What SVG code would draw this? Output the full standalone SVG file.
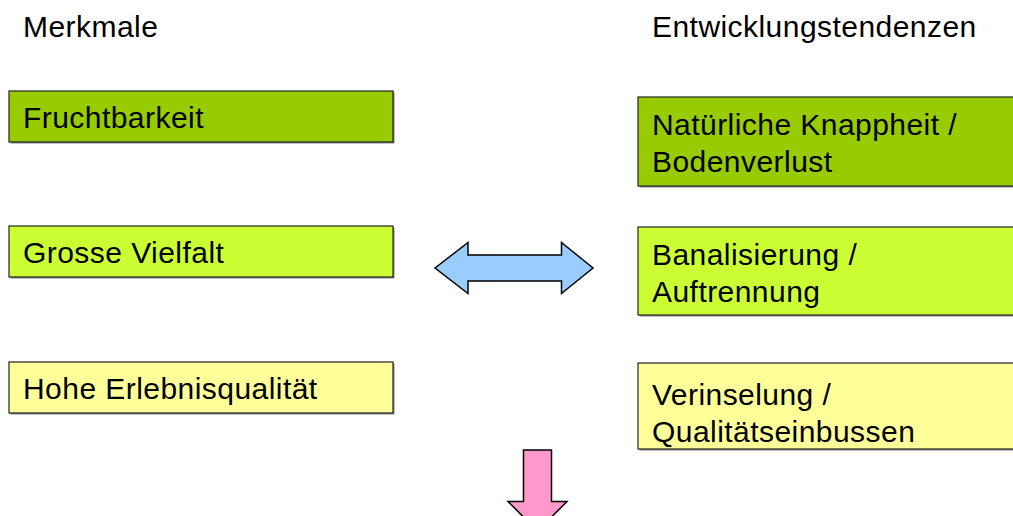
<svg xmlns="http://www.w3.org/2000/svg" width="1013" height="516" viewBox="0 0 1013 516">
<style>
text{font-family:"Liberation Sans",Arial,sans-serif;font-size:30px;letter-spacing:0.45px;fill:#000}
.box{stroke:#222;stroke-width:1.2}
.sh{fill:#888}
.g1{fill:#99CC00}.g2{fill:#CCFF33}.g3{fill:#FFFF99}
.arr{stroke:#000;stroke-width:1.5;stroke-linejoin:miter}
</style>
<rect width="1013" height="516" fill="#fff"/>
<g id="h-merkmale"><text x="23" y="37">Merkmale</text></g>
<g id="h-entwicklung"><text x="652" y="37">Entwicklungstendenzen</text></g>
<g id="n-frucht"><rect class="sh" x="10.5" y="92.5" width="384" height="51"/><rect class="box g1" x="9" y="91" width="384" height="51"/><text x="23" y="128">Fruchtbarkeit</text></g>
<g id="n-vielfalt"><rect class="sh" x="10.5" y="227.5" width="384" height="51"/><rect class="box g2" x="9" y="226" width="384" height="51"/><text x="23" y="263">Grosse Vielfalt</text></g>
<g id="n-erlebnis"><rect class="sh" x="10.5" y="363.5" width="384" height="51"/><rect class="box g3" x="9" y="362" width="384" height="51"/><text x="23" y="399">Hohe Erlebnisqualität</text></g>
<g id="n-knapp"><rect class="sh" x="639.5" y="98.5" width="400" height="89"/><rect class="box g1" x="638" y="97" width="400" height="89"/><text x="652" y="135">Natürliche Knappheit /</text><text x="652" y="171.5">Bodenverlust</text></g>
<g id="n-banal"><rect class="sh" x="639.5" y="228.5" width="400" height="88"/><rect class="box g2" x="638" y="227" width="400" height="88"/><text x="652" y="265">Banalisierung /</text><text x="652" y="301.5">Auftrennung</text></g>
<g id="n-insel"><rect class="sh" x="639.5" y="364.5" width="400" height="86"/><rect class="box g3" x="638" y="363" width="400" height="86"/><text x="652" y="405">Verinselung /</text><text x="652" y="441.5">Qualitätseinbussen</text></g>
<g id="connectors">
<path class="arr" fill="#99CCFF" d="M435,268 L468,242.5 L468,255 L561.5,255 L561.5,242.5 L593,268 L561.5,293.5 L561.5,281 L468,281 L468,293.5 Z"/>
<path class="arr" fill="#FF99CC" d="M523.5,450 L551.5,450 L551.5,501.5 L567,501.5 L537.5,531 L508,501.5 L523.5,501.5 Z"/>
</g>
</svg>
